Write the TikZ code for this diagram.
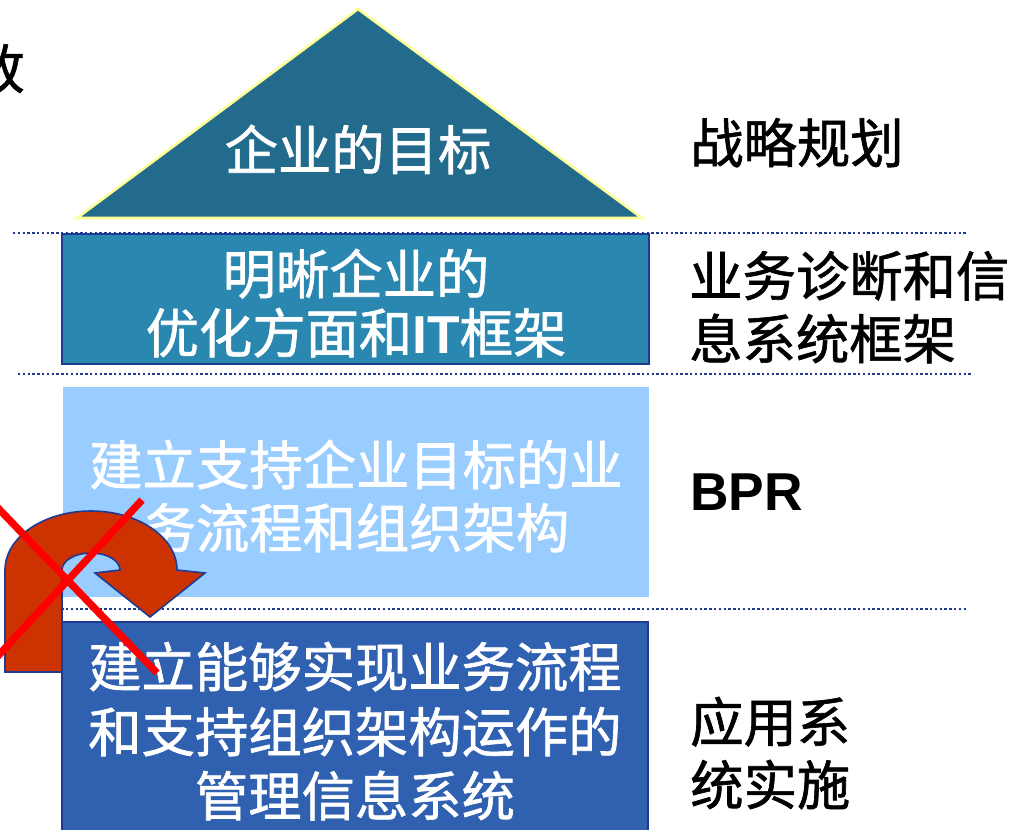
\documentclass[tikz,border=0pt]{standalone}
\usepackage{fontspec}
\newfontfamily\cjk[FakeBold=1.2]{Noto Sans CJK SC}
\newfontfamily\lat{Liberation Sans}
\definecolor{trifill}{RGB}{35,107,140}
\definecolor{triedge}{RGB}{255,255,153}
\definecolor{boxtwo}{RGB}{42,135,176}
\definecolor{boxthree}{RGB}{153,204,255}
\definecolor{boxfour}{RGB}{48,96,176}
\definecolor{navyline}{RGB}{31,58,147}
\definecolor{arrowred}{RGB}{204,51,0}
\begin{document}
\begin{tikzpicture}[x=0.75pt,y=-0.75pt,
  bigfont/.style={font=\cjk\fontsize{40}{48}\selectfont},
  intext/.style={bigfont,text=white,anchor=base,inner sep=0pt},
  sidetext/.style={bigfont,text=black,anchor=base west,inner sep=0pt},
  dotline/.style={draw=navyline,line width=2pt,dash pattern=on 1.8pt off 1.8pt},
  framed/.style={draw=navyline,line width=2pt},
  crossline/.style={draw=red,line width=5.5pt}]
\useasboundingbox (0,0) rectangle (1012,829);

% partial character at the top-left edge
\node[bigfont,text=black,anchor=base,inner sep=0pt] (cut) at (-2,89) {致};

% triangle
\coordinate (apex) at (358,9);
\coordinate (bl) at (77,218);
\coordinate (br) at (642,218);
\fill[trifill] (apex) -- (br) -- (bl) -- cycle;
\draw[triedge,line width=2pt,line join=miter] (apex) -- (br) -- (bl) -- cycle;
\node[intext] (goal) at (358,170) {企业的目标};

% boxes
\fill[boxtwo] (62,234) rectangle (649,364);
\draw[framed] (62,234) rectangle (649,364);
\fill[boxthree] (63,387) rectangle (649,597);
\fill[boxfour] (62,622) rectangle (648,840);
\draw[framed] (62,840) -- (62,622) -- (648,622) -- (648,840);

% dotted separators
\draw[dotline] (13,233) -- (968,233);
\draw[dotline] (18,374) -- (973,374);
\draw[dotline] (18,609) -- (968,609);

% box texts
\node[intext] (b2a) at (356,294) {明晰企业的};
\node[intext] (b2b) at (356,353) {优化方面和{\lat\bfseries IT}框架};
\node[intext] (b3a) at (356,485) {建立支持企业目标的业};
\node[intext] (b3b) at (356,548) {务流程和组织架构};
\node[intext] (b4a) at (355,687) {建立能够实现业务流程};
\node[intext] (b4b) at (355,752) {和支持组织架构运作的};
\node[intext] (b4c) at (355,816) {管理信息系统};

% side labels
\node[sidetext] (s1) at (690,163) {战略规划};
\node[sidetext] (s2a) at (689,296) {业务诊断和信};
\node[sidetext] (s2b) at (689,359) {息系统框架};
\node[sidetext,font=\lat\bfseries\fontsize{40}{48}\selectfont] (s3) at (690,510) {BPR};
\node[sidetext] (s4a) at (690,742) {应用系};
\node[sidetext] (s4b) at (690,805) {统实施};

% U-turn arrow
\draw[fill=arrowred,draw=navyline,line width=1.2pt,line join=miter]
  (5,672) -- (5,570)
  arc[start angle=180,end angle=0,x radius=64.5pt,y radius=44.25pt]
  -- (205,573) -- (150,617) -- (95,573) -- (120,570)
  arc[start angle=0,end angle=180,x radius=21.75pt,y radius=12.75pt]
  -- (62,672) -- cycle;

% red cross
\coordinate (xa1) at (-4,506);
\coordinate (xa2) at (157,673);
\coordinate (xb1) at (142,500);
\coordinate (xb2) at (-4,658);
\draw[crossline] (xa1) -- (xa2);
\draw[crossline] (xb1) -- (xb2);
\end{tikzpicture}
\end{document}
